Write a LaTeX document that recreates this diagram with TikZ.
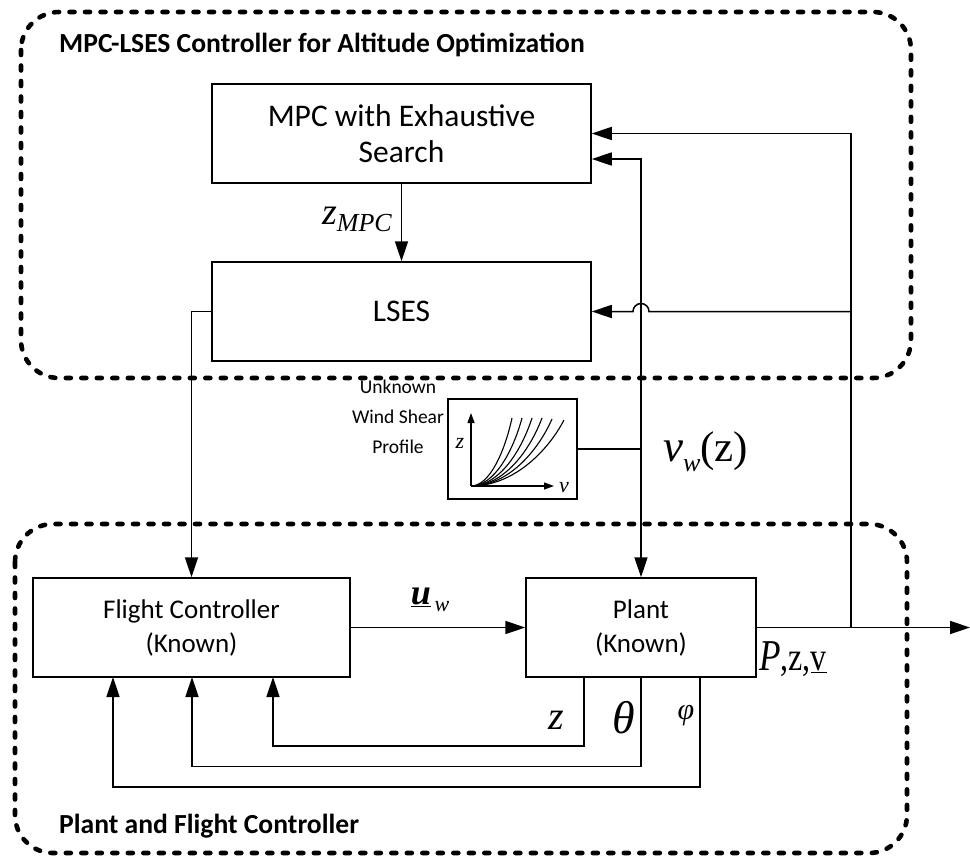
\documentclass[tikz,border=0pt]{standalone}
\usepackage{fontspec}
\setmainfont{Carlito}
\newfontfamily\serifmath{Liberation Serif}
\usetikzlibrary{arrows.meta,calc}

\tikzset{
  blockbox/.style={draw, line width=1.5pt, inner sep=0pt, align=center},
  groupframe/.style={line width=4.6pt, line cap=round, dash pattern=on 5pt off 10.5pt, rounded corners=38pt},
  wire/.style={line width=1.5pt},
  sig/.style={wire, -{Triangle[length=20pt,width=13pt]}},
  smallsig/.style={line width=1.3pt, -{Triangle[length=10pt,width=7pt]}},
  lbl/.style={inner sep=0pt},
  bigfont/.style={font=\fontsize{31.5}{36}\selectfont},
  midfont/.style={font=\fontsize{27}{34}\selectfont},
  grouptitle/.style={lbl, anchor=west, font=\bfseries\fontsize{27.6}{28}\selectfont},
}

\begin{document}
\begin{tikzpicture}[x=1pt,y=-1pt]
\useasboundingbox (0,0) rectangle (970,860);

% group frames
\draw[groupframe] (21,12) rectangle (911,378);
\draw[groupframe] (15,524) rectangle (907,853);
\node[grouptitle] (ttop) at (59,45) {MPC-LSES Controller for Altitude Optimization};
\node[grouptitle] (tbot) at (59,826) {Plant and Flight Controller};

% blocks
\node[blockbox, bigfont, minimum width=379pt, minimum height=99pt] (mpc) at (401.5,133.5) {MPC with Exhaustive\\Search};
\node[blockbox, bigfont, minimum width=379pt, minimum height=99pt] (lses) at (401.5,311.5) {LSES};
\node[blockbox, midfont, minimum width=317pt, minimum height=99pt] (fc) at (191.5,627.5) {Flight Controller\\(Known)};
\node[blockbox, midfont, minimum width=230pt, minimum height=99pt] (plant) at (641,627.5) {Plant\\(Known)};
\node[blockbox, minimum width=129pt, minimum height=100pt] (wind) at (512.5,449) {};
\node[lbl, align=center, font=\fontsize{19.5}{30}\selectfont] (windtxt) at (398,417) {Unknown\\Wind Shear\\Profile};

% wind shear profile sketch
\coordinate (org) at (471,486);
\coordinate (zax) at (471,413);
\coordinate (vax) at (554,486);
\draw[smallsig] (org) -- (zax);
\draw[smallsig] (org) -- (vax);
\foreach \xe/\ye in {512/418, 522/418, 532/418, 542/418, 552/419, 564/420}{
  \draw[line width=1.1pt] (org) .. controls ($(org)!0.45!(\xe,486)$) and (\xe-0.18*\xe+0.18*471,452) .. (\xe,\ye);
}
\node[lbl, font=\serifmath\itshape\fontsize{22}{22}\selectfont] (zlab) at (460,443) {z};
\node[lbl, font=\serifmath\itshape\fontsize{22}{22}\selectfont] (vlab) at (564,488) {v};

% MPC -> LSES
\draw[sig] (mpc.south) -- (lses.north);
\node[lbl, anchor=east] (zmpc) at (392,219) {{\serifmath\itshape\fontsize{38}{38}\selectfont z}\raisebox{-7pt}{\serifmath\itshape\fontsize{26}{26}\selectfont MPC}};

% LSES -> flight controller
\draw[sig] (lses.west) -| (fc.north);

% flight controller -> plant
\draw[sig] (fc.east) -- (plant.west);
\node[lbl] (uw) at (430,600) {{\serifmath\bfseries\itshape\fontsize{36}{36}\selectfont\underline{u}}\raisebox{-7pt}{\serifmath\itshape\fontsize{22}{22}\selectfont\,w}};

% plant output and measurement feedback to the upper controller
\coordinate (outend) at (970,627.5);
\coordinate (tap) at (851,627.5);
\draw[sig] (plant.east) -- (outend);
\draw[sig] (tap) |- (mpc.east);
\draw[sig] (tap |- lses.east) -- (649,311.5) arc (0:-180:8) -- (lses.east);
\node[lbl, anchor=west] (pzv) at (759,659) {\scalebox{0.8}[1]{{\serifmath\itshape\fontsize{44}{44}\selectfont P}{\serifmath\fontsize{40}{40}\selectfont,z,\underline{v}}}};

% wind shear signal
\coordinate (wj) at (641,449);
\draw[wire] (wind.east) -- (wj);
\draw[sig] (wj) |- ($(mpc.east)+(0,25.5)$);
\draw[sig] (wj) -- (plant.north);
\node[lbl, anchor=west] (vw) at (663,452) {{\serifmath\itshape\fontsize{45}{45}\selectfont v}\raisebox{-10pt}{\serifmath\itshape\fontsize{26}{26}\selectfont w}{\serifmath\fontsize{43}{43}\selectfont(z)}};

% state feedback to the flight controller
\coordinate (pz) at (584,677);
\coordinate (pth) at (641,677);
\coordinate (pph) at (700,677);
\coordinate (fz) at (273,677);
\coordinate (fth) at (192,677);
\coordinate (fph) at (113,677);
\draw[sig] (pz) -- (584,746) -| (fz);
\draw[sig] (pth) -- (641,766.5) -| (fth);
\draw[sig] (pph) -- (700,787) -| (fph);
\node[lbl] (zfb) at (556,720) {\serifmath\itshape\fontsize{40}{40}\selectfont z};
\node[lbl] (thfb) at (624,718) {\serifmath\itshape\fontsize{46}{46}\selectfont θ};
\node[lbl] (phfb) at (686,716) {\serifmath\itshape\fontsize{30}{30}\selectfont φ};
\end{tikzpicture}
\end{document}
